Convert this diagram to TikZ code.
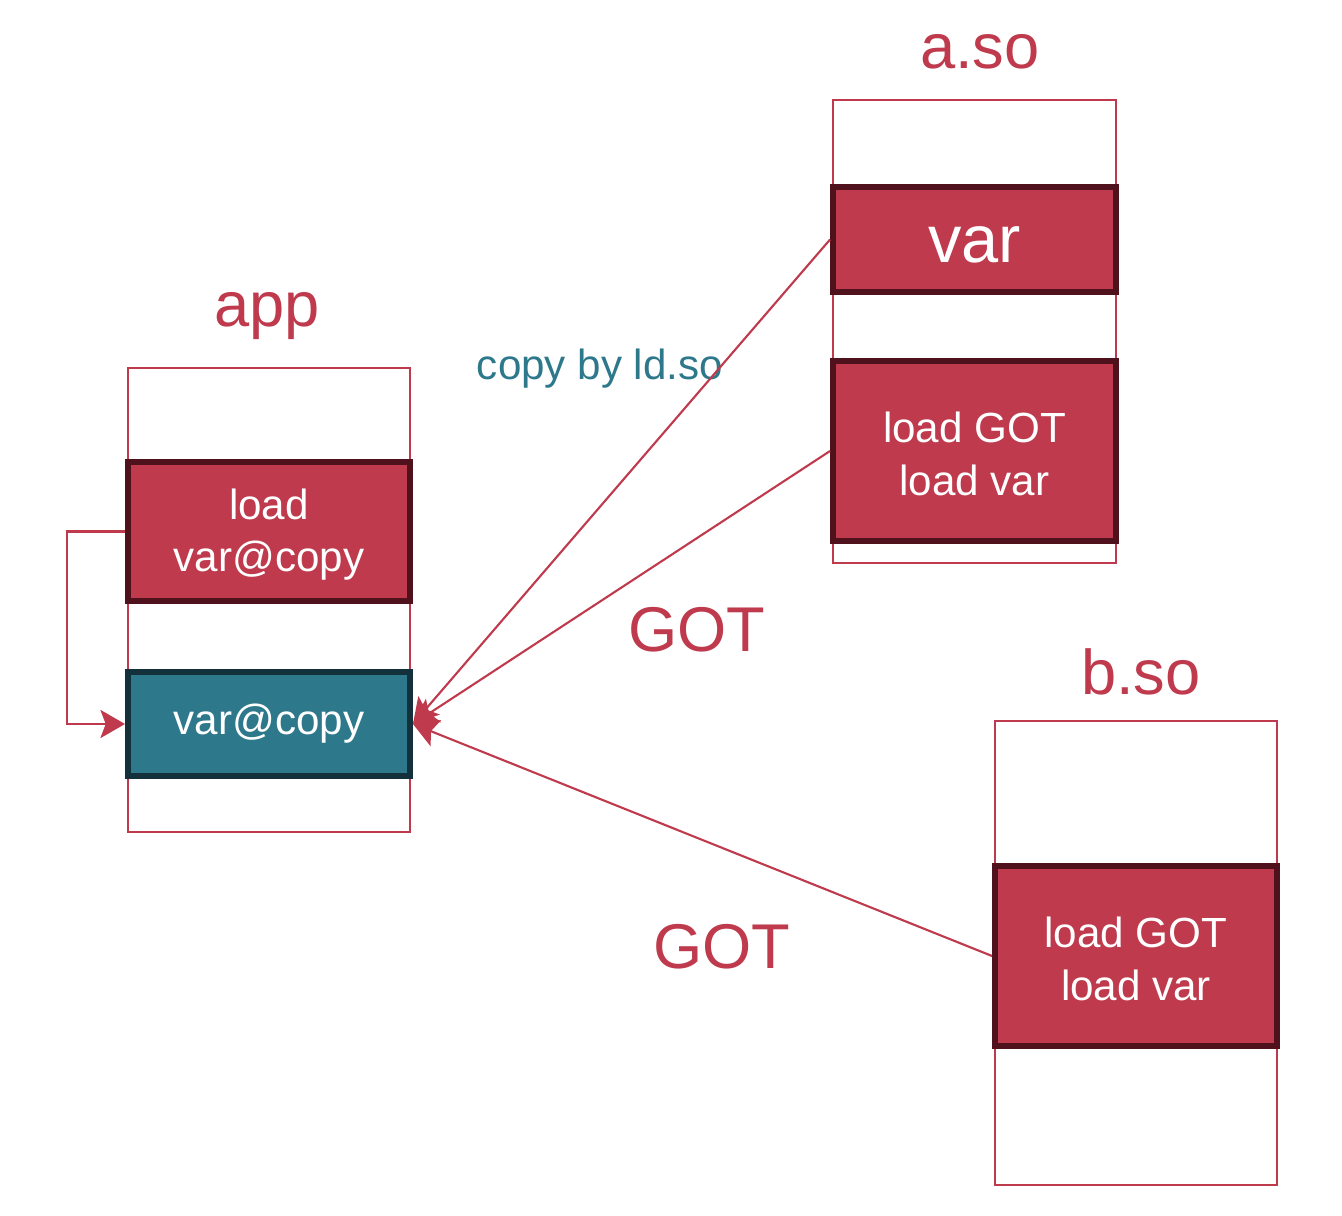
\documentclass[tikz,border=0pt]{standalone}
\usepackage{fontspec}
\setmainfont{Liberation Sans}
\usetikzlibrary{arrows.meta}
\definecolor{memred}{HTML}{BE3A4C}
\definecolor{memdark}{HTML}{4F121C}
\definecolor{memteal}{HTML}{2E788C}
\definecolor{tealdark}{HTML}{12313A}
\begin{document}
\begin{tikzpicture}[
    x=0.02cm, y=-0.02cm,
    segment/.style={draw=memred, line width=1.1pt, minimum width=5.64cm, minimum height=9.28cm},
    slot/.style={draw=memdark, fill=memred, line width=3.4pt, minimum width=5.64cm,
        text=white, align=center, font=\fontsize{24}{30}\selectfont},
    copyslot/.style={slot, draw=tealdark, fill=memteal},
    title/.style={text=memred, font=\fontsize{36}{40}\selectfont},
    link/.style={-{Stealth[length=14pt, width=16pt, inset=3pt]}, draw=memred, line width=1.2pt}
]
    \useasboundingbox (0,0) rectangle (1342,1216);

    % app
    \node[segment] (app) at (269,600) {};
    \node[title] (appname) at (267,316) {app};
    \node[slot, minimum height=2.78cm] (load1) at (269,531.5) {\strut load\\var@copy};
    \node[copyslot, minimum height=2.08cm] (varcopy) at (269,724) {\strut var@copy};

    % a.so
    \node[segment, minimum width=5.66cm, minimum height=9.26cm] (aso) at (974.5,331.5) {};
    \node[title] (asoname) at (980,52) {a.so};
    \node[slot, minimum width=5.66cm, minimum height=2.1cm,
        label={[text=white, font=\fontsize{38}{40}\selectfont, yshift=-0.1cm]center:var}] (var) at (974.5,239.5) {};
    \node[slot, minimum width=5.66cm, minimum height=3.6cm] (load2) at (974.5,451) {\strut load GOT\\load var};

    % b.so
    \node[segment] (bso) at (1136,953) {};
    \node[title] (bsoname) at (1141,672) {b.so};
    \node[slot, minimum height=3.6cm] (load3) at (1136,956) {\strut load GOT\\load var};

    % labels
    \node[text=memteal, font=\fontsize{24}{28}\selectfont] (copylbl) at (600,369) {copy by ld.so};
    \node[title] (got1) at (697,630) {GOT};
    \node[title] (got2) at (722,947) {GOT};

    % links
    \draw[link] (var.west) -- (varcopy.east);
    \draw[link] (load2.west) -- (varcopy.east);
    \draw[link] (load3.west) -- (varcopy.east);
    \draw[link] (load1.west) -- ++(-58,0) |- (varcopy.west);
\end{tikzpicture}
\end{document}
